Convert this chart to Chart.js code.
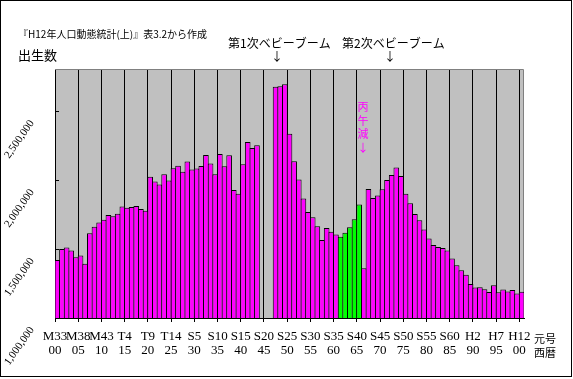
<!DOCTYPE html>
<html><head><meta charset="utf-8">
<script src="https://cdn.jsdelivr.net/npm/chart.js@4"></script>
<style>html,body{margin:0;padding:0;background:#fff;}#wrap{width:573px;height:379px;position:relative;}canvas{display:block;}</style>
</head><body><div id="wrap"><canvas id="c" width="573" height="379"></canvas></div>
<script>
// ---- data ----
const firstYear = 1900;
const lastYear = 2000;
const years = [];
for (let y = firstYear; y <= lastYear; y++) years.push(y);

// 出生数 (births), 1900-2000; 1944-1946 not available
const births = [
  1420534, 1501591, 1510835, 1489816, 1440371,
  1452770, 1394295, 1614472, 1662815, 1693850,
  1712857, 1747803, 1737674, 1757441, 1808402,
  1799326, 1804822, 1812413, 1791992, 1778685,
  2025564, 1990876, 1969314, 2043297, 1998520,
  2086091, 2104405, 2060737, 2135852, 2077026,
  2085101, 2102784, 2182742, 2121253, 2043783,
  2190704, 2101969, 2180734, 1928321, 1901573,
  2115867, 2277283, 2233660, 2253535, null,
  null, null, 2678792, 2681624, 2696638,
  2337507, 2137689, 2005162, 1868040, 1769580,
  1730692, 1665278, 1566713, 1653469, 1626088,
  1606041, 1589372, 1618616, 1659521, 1716761,
  1823697, 1360974, 1935647, 1871839, 1889815,
  1934239, 2000973, 2038682, 2091983, 2029989,
  1901440, 1832617, 1755100, 1708643, 1642580,
  1576889, 1529455, 1515392, 1508687, 1489780,
  1431577, 1382946, 1346658, 1314006, 1246802,
  1221585, 1223245, 1208989, 1188282, 1238328,
  1187064, 1206555, 1191665, 1203147, 1177669,
  1190547
];
const highlightYears = [1961, 1962, 1963, 1964, 1965];

const eraLabels = ['M33','M38','M43','T4','T9','T14','S5','S10','S15','S20','S25','S30','S35','S40','S45','S50','S55','S60','H2','H7','H12'];
const yearLabels = ['00','05','10','15','20','25','30','35','40','45','50','55','60','65','70','75','80','85','90','95','00'];
const yTicks = [1000000, 1500000, 2000000, 2500000];

// ---- layout ----
const AREA = {left: 55, top: 70, right: 524, bottom: 318};
const catW = (AREA.right - AREA.left) / years.length;

const CJK = "'Noto Sans CJK JP', sans-serif";
const SERIF = "'Liberation Serif', serif";

const decor = {
  id: 'decor',
  beforeDraw(chart) {
    const ctx = chart.ctx, a = chart.chartArea;
    ctx.save();
    ctx.fillStyle = '#fff';
    ctx.fillRect(0, 0, chart.width, chart.height);
    ctx.fillStyle = '#C0C0C0';
    ctx.fillRect(a.left, a.top, a.right - a.left, a.bottom - a.top);
    ctx.strokeStyle = '#808080';
    ctx.lineWidth = 1;
    ctx.beginPath();
    ctx.moveTo(a.left, a.top - 0.5);
    ctx.lineTo(a.right - 0.5, a.top - 0.5);
    ctx.lineTo(a.right - 0.5, a.bottom);
    ctx.stroke();
    ctx.restore();
  },
  afterDraw(chart) {
    const ctx = chart.ctx, a = chart.chartArea, ys = chart.scales.y;
    ctx.save();
    // y tick marks (inside)
    ctx.strokeStyle = '#000';
    ctx.lineWidth = 1;
    ctx.beginPath();
    ys.ticks.forEach(t => {
      const p = Math.round(ys.getPixelForValue(t.value)) + 0.5;
      ctx.moveTo(a.left, p);
      ctx.lineTo(a.left + 4, p);
    });
    ctx.stroke();
    // outer frame
    ctx.strokeRect(0.5, 0.5, 571, 376);

    ctx.fillStyle = '#000';
    ctx.textBaseline = 'middle';
    ctx.textAlign = 'left';
    ctx.font = '10px ' + CJK;
    ctx.fillText('『H12年人口動態統計(上)』表3.2から作成', 18, 34);
    ctx.font = '13px ' + CJK;
    ctx.fillText('出生数', 18, 55);
    ctx.font = '12px ' + CJK;
    ctx.fillText('第1次ベビーブーム', 228, 43);
    ctx.fillText('第2次ベビーブーム', 342, 43);
    ctx.textAlign = 'center';
    ctx.fillText('↓', 277, 56);
    ctx.fillText('↓', 390, 56);
    ctx.font = '11px ' + CJK;
    ctx.textAlign = 'left';
    ctx.fillText('元号', 534, 339);
    ctx.fillText('西暦', 534, 353);
    ctx.fillStyle = '#FF00FF';
    ctx.textAlign = 'center';
    ['丙','午','減','↓'].forEach((ch, i) => ctx.fillText(ch, 363, [107, 121, 134, 148][i]));
    ctx.restore();
  }
};

new Chart(document.getElementById('c'), {
  type: 'bar',
  data: {
    labels: years,
    datasets: [{
      data: births,
      backgroundColor: years.map(y => highlightYears.includes(y) ? '#00FF00' : '#FF00FF'),
      borderColor: '#000',
      borderWidth: 1,
      categoryPercentage: 1,
      barPercentage: (catW + 1) / catW
    }]
  },
  options: {
    responsive: false,
    animation: false,
    devicePixelRatio: 1,
    layout: {padding: {left: 0, top: AREA.top, right: 573 - AREA.right, bottom: 0}},
    plugins: {legend: {display: false}, tooltip: {enabled: false}, title: {display: false}},
    scales: {
      x: {
        grid: {
          offset: true,
          color: c => (c.index !== undefined && c.index % 5 === 0) ? '#000' : 'rgba(0,0,0,0)',
          lineWidth: 1,
          tickLength: 4
        },
        border: {color: '#000'},
        ticks: {
          autoSkip: false, maxRotation: 0, minRotation: 0,
          labelOffset: -catW / 2,
          padding: 8,
          color: '#000',
          font: {family: SERIF, size: 13, lineHeight: 1.05},
          callback: (v, i) => i % 5 === 0 ? [eraLabels[i / 5], yearLabels[i / 5]] : ''
        },
        afterFit: s => { s.height = 379 - AREA.bottom; }
      },
      y: {
        min: 1000000, max: 2800000,
        grid: {display: false},
        border: {color: '#000'},
        ticks: {
          autoSkip: false,
          minRotation: 55, maxRotation: 55,
          padding: 15,
          labelOffset: 10,
          color: '#000',
          font: {family: SERIF, size: 11},
          callback: v => Number(v).toLocaleString('en-US')
        },
        afterBuildTicks: s => { s.ticks = yTicks.map(v => ({value: v})); },
        afterFit: s => { s.width = AREA.left; }
      }
    }
  },
  plugins: [decor]
});
</script>
</body></html>
